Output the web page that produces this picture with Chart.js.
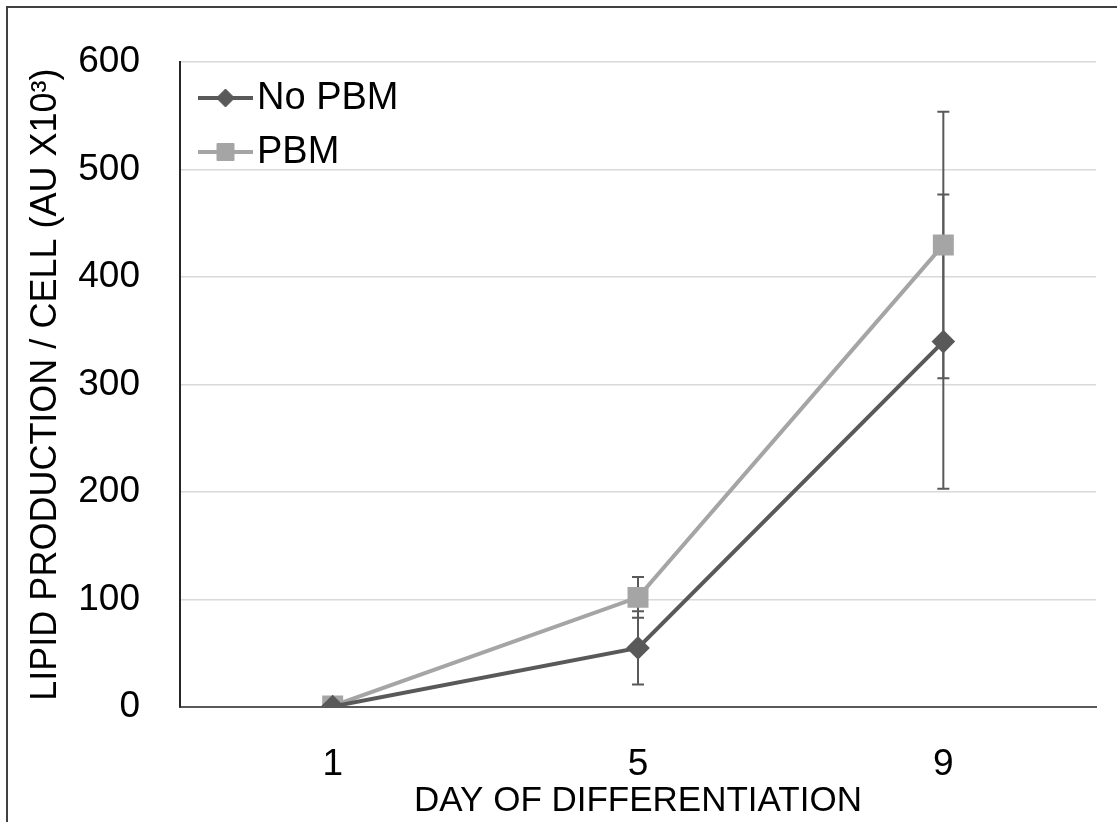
<!DOCTYPE html>
<html>
<head>
<meta charset="utf-8">
<script src="https://cdn.jsdelivr.net/npm/chart.js@4.4.0/dist/chart.umd.min.js"></script>
<style>
  html, body { margin: 0; padding: 0; background: #fff; }
  #wrap { width: 1117px; height: 822px; }
</style>
</head>
<body>
<div id="wrap"><canvas id="chart_lipid" width="1117" height="822"></canvas></div>
<script>
const days = ['1', '5', '9'];
const noPbm = [0.5, 55, 340];
const noPbmErr = [0.5, 34, 137];
const pbm = [1, 102, 430];
const pbmErr = [0.5, 19, 124];
const yTicks = [0, 100, 200, 300, 400, 500, 600];

const FONT = "'Liberation Sans', Arial, sans-serif";

// error bars, drawn under the markers
const errorBars = {
    id: 'errorBars',
    beforeDatasetsDraw(chart) {
        const ctx = chart.ctx;
        const y = chart.scales.y;
        ctx.save();
        ctx.strokeStyle = '#595959';
        ctx.lineWidth = 2;
        chart.data.datasets.forEach((ds, i) => {
            const meta = chart.getDatasetMeta(i);
            meta.data.forEach((pt, j) => {
                const v = ds.data[j], e = ds.errors[j];
                const top = y.getPixelForValue(v + e);
                const bot = y.getPixelForValue(v - e);
                ctx.beginPath();
                ctx.moveTo(pt.x, top); ctx.lineTo(pt.x, bot);
                ctx.moveTo(pt.x - 6, top); ctx.lineTo(pt.x + 6, top);
                ctx.moveTo(pt.x - 6, bot); ctx.lineTo(pt.x + 6, bot);
                ctx.stroke();
            });
        });
        ctx.restore();
    }
};

// legend inside the plot, top left, plus the outer frame (open on the right)
const insideLegend = {
    id: 'insideLegend',
    afterDraw(chart) {
        const ctx = chart.ctx;
        ctx.save();
        chart.data.datasets.forEach((ds, i) => {
            const cy = 98 + i * 54;
            ctx.strokeStyle = ds.borderColor;
            ctx.lineWidth = 4;
            ctx.beginPath();
            ctx.moveTo(198, cy); ctx.lineTo(253, cy);
            ctx.stroke();
            ctx.fillStyle = ds.pointBackgroundColor;
            ctx.strokeStyle = ds.pointBackgroundColor;
            ctx.lineWidth = 1;
            Chart.helpers.drawPoint(ctx, { pointStyle: ds.pointStyle, radius: ds.pointRadius, borderWidth: 1 }, 225.5, cy);
            ctx.fillStyle = '#000';
            ctx.font = '38px ' + FONT;
            ctx.textBaseline = 'middle';
            ctx.fillText(ds.label, 257, cy + 1);
        });
        ctx.strokeStyle = '#404040';
        ctx.lineWidth = 2;
        ctx.strokeRect(7, 7, 1200, 900);
        ctx.restore();
    }
};

new Chart(document.getElementById('chart_lipid').getContext('2d'), {
    type: 'line',
    data: {
        labels: days,
        datasets: [{
            label: 'No PBM',
            data: noPbm,
            errors: noPbmErr,
            borderColor: '#595959',
            backgroundColor: '#595959',
            pointBackgroundColor: '#595959',
            pointBorderColor: '#595959',
            pointStyle: 'rectRot',
            pointRadius: 9,
            borderWidth: 4,
            tension: 0
        }, {
            label: 'PBM',
            data: pbm,
            errors: pbmErr,
            borderColor: '#A5A5A5',
            backgroundColor: '#A5A5A5',
            pointBackgroundColor: '#A5A5A5',
            pointBorderColor: '#A5A5A5',
            pointStyle: 'rect',
            pointRadius: 12,
            borderWidth: 4,
            tension: 0
        }]
    },
    options: {
        responsive: false,
        animation: false,
        layout: { padding: { left: 10, top: 57, right: 21, bottom: 0 } },
        plugins: {
            legend: { display: false },
            tooltip: { enabled: false }
        },
        scales: {
            x: {
                offset: true,
                afterFit(scale) { scale.height = 115; },
                grid: { display: false, drawTicks: false, offset: true },
                border: { color: '#595959', width: 2 },
                ticks: { color: '#000', padding: 36, font: { family: FONT, size: 37 } },
                title: {
                    display: true,
                    text: 'DAY OF DIFFERENTIATION',
                    color: '#000',
                    font: { family: FONT, size: 35 },
                    padding: { top: 0, bottom: 0 }
                }
            },
            y: {
                min: 0,
                max: 600,
                afterFit(scale) { scale.width = 170; },
                afterBuildTicks(scale) { scale.ticks = yTicks.map(v => ({ value: v })); },
                grid: { drawTicks: false, lineWidth: 1.5, color: '#D9D9D9' },
                border: { color: '#262626', width: 2 },
                ticks: { color: '#000', padding: 40, font: { family: FONT, size: 37 } },
                title: {
                    display: true,
                    text: 'LIPID PRODUCTION / CELL (AU X10³)',
                    color: '#000',
                    font: { family: FONT, size: 36 },
                    padding: { top: 14, bottom: 0 }
                }
            }
        }
    },
    plugins: [errorBars, insideLegend]
});
</script>
</body>
</html>
